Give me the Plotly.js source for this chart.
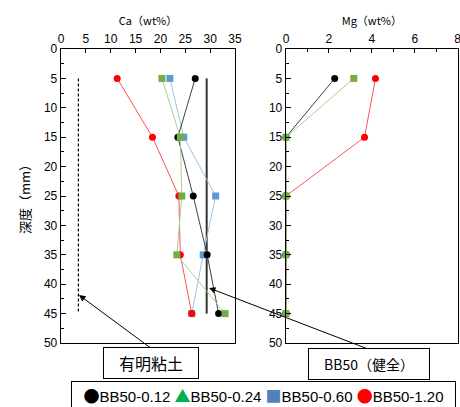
<!DOCTYPE html>
<html>
<head>
<meta charset="utf-8">
<script src="https://cdn.plot.ly/plotly-3.0.1.min.js"></script>
<style>html,body{margin:0;padding:0;background:#fff;}#chart{width:460px;height:407px;}</style>
</head>
<body>
<div id="chart"></div>
<script>
// depth (mm)
const depth = [5, 15, 25, 35, 45];
// Ca (wt%)
const caB012 = [27.0, 23.5, 26.6, 29.4, 31.7];
const caB024 = [20.3, 24.0, 24.3, 23.3, 33.0];
const caB060 = [21.9, 24.7, 31.1, 28.6, 26.3];
const caB120 = [11.3, 18.4, 23.7, 24.0, 26.3];
// Mg (wt%)
const mgB012 = [2.27, 0, 0, 0, 0];
const mgB024 = [3.16, 0, 0, 0, 0];
const mgB120 = [4.17, 3.66, 0, 0, 0];
// reference lines (Ca)
const refDepth = [5, 45];
const ariakeCa = [3.5, 3.5];
const bb50Ca = [29.3, 29.3];
const seriesNames = ['BB50-0.12', 'BB50-0.24', 'BB50-0.60', 'BB50-1.20'];
const legendGlyphs = ['●', '▲', '■', '●'];
const legendColors = ['#000000', '#00B050', '#4F81BD', '#FF0000'];

const JP = '"Noto Sans CJK JP", "Noto Sans", sans-serif';
const AR = '"Liberation Sans", Arial, sans-serif';

function series(x, y, xa, ya, lineColor, markColor, symbol) {
  return {x: x, y: y, xaxis: xa, yaxis: ya, type: 'scatter', mode: 'lines+markers',
    line: {color: lineColor, width: 1}, marker: {color: markColor, size: 7, symbol: symbol},
    showlegend: false, cliponaxis: false, hoverinfo: 'skip'};
}

const data = [
  {x: ariakeCa, y: refDepth, xaxis: 'x', yaxis: 'y', type: 'scatter', mode: 'lines',
   line: {color: '#000', width: 1.2, dash: '3px,2px'}, showlegend: false},
  {x: bb50Ca, y: refDepth, xaxis: 'x', yaxis: 'y', type: 'scatter', mode: 'lines',
   line: {color: '#333', width: 2}, showlegend: false},
  series(caB060, depth, 'x', 'y', '#9DC3E6', '#5B9BD5', 'square'),
  series(caB120, depth, 'x', 'y', '#FF5050', '#FF0000', 'circle'),
  series(caB012, depth, 'x', 'y', '#404040', '#000000', 'circle'),
  series(caB024, depth, 'x', 'y', '#A9D18E', '#70AD47', 'square'),
  series(mgB120, depth, 'x2', 'y2', '#FF5050', '#FF0000', 'circle'),
  series(mgB012, depth, 'x2', 'y2', '#404040', '#000000', 'circle'),
  series(mgB024, depth, 'x2', 'y2', '#A9D18E', '#70AD47', 'square')
];

const legendText = seriesNames.map(function (n, i) {
  return '<span style="font-family:Noto Sans CJK JP;font-size:16px;color:' + legendColors[i] + '">' +
    legendGlyphs[i] + '</span>' + n;
}).join('\u00A0');

const yCommon = {range: [50, 0], dtick: 5, ticks: 'inside', ticklen: 5, tickcolor: '#000',
  showline: true, linecolor: '#000', linewidth: 1.3, mirror: true, showgrid: false, zeroline: false,
  minor: {dtick: 2.5, ticks: 'inside', ticklen: 3, tickcolor: '#000'},
  tickfont: {family: AR, size: 12, color: '#000'}, domain: [0.1572, 0.8796]};

const layout = {
  width: 460, height: 407,
  margin: {l: 0, r: 0, t: 0, b: 0},
  paper_bgcolor: '#fff', plot_bgcolor: '#fff',
  showlegend: false,
  xaxis: {domain: [0.1326, 0.5109], range: [0, 35], side: 'top', anchor: 'y', dtick: 5,
    ticks: 'inside', ticklen: 4, tickcolor: '#000', showline: true, linecolor: '#000', linewidth: 1.3,
    mirror: true, showgrid: false, zeroline: false, tickfont: {family: AR, size: 12, color: '#000'},
    title: {text: 'Ca（wt%）', font: {family: JP, size: 11, color: '#000'}, standoff: 4}},
  yaxis: Object.assign({}, yCommon, {anchor: 'x',
    title: {text: '深度（mm）', font: {family: JP, size: 13, color: '#000'}, standoff: 10}}),
  xaxis2: {domain: [0.6217, 0.995], range: [0, 8], side: 'top', anchor: 'y2', dtick: 2,
    ticks: 'inside', ticklen: 4, tickcolor: '#000', showline: true, linecolor: '#000', linewidth: 1.3,
    mirror: true, showgrid: false, zeroline: false, tickfont: {family: AR, size: 12, color: '#000'},
    ticklabeloverflow: 'allow',
    minor: {dtick: 1, ticks: 'inside', ticklen: 3, tickcolor: '#000'},
    title: {text: 'Mg（wt%）', font: {family: JP, size: 11, color: '#000'}, standoff: 4}},
  yaxis2: Object.assign({}, yCommon, {anchor: 'x2'}),
  annotations: [
    {xref: 'paper', yref: 'paper', x: 79 / 460, y: 1 - 295 / 407, ax: 73, ay: 54, axref: 'pixel', ayref: 'pixel',
     text: '', showarrow: true, arrowhead: 2, arrowsize: 1.3, arrowwidth: 1, arrowcolor: '#000'},
    {xref: 'paper', yref: 'paper', x: 209 / 460, y: 1 - 288 / 407, ax: 159, ay: 61, axref: 'pixel', ayref: 'pixel',
     text: '', showarrow: true, arrowhead: 2, arrowsize: 1.3, arrowwidth: 1, arrowcolor: '#000'},
    {xref: 'paper', yref: 'paper', x: 151 / 460, y: 1 - 363 / 407, xanchor: 'center', yanchor: 'middle',
     text: '有明粘土', showarrow: false, font: {family: JP, size: 16, color: '#000'},
     bordercolor: '#000', borderwidth: 1, bgcolor: '#fff', width: 92, height: 28},
    {xref: 'paper', yref: 'paper', x: 369 / 460, y: 1 - 364 / 407, xanchor: 'center', yanchor: 'middle',
     text: 'BB50（健全）', showarrow: false, font: {family: JP, size: 14, color: '#000'},
     bordercolor: '#000', borderwidth: 1, bgcolor: '#fff', width: 118, height: 28},
    {xref: 'paper', yref: 'paper', x: 263.5 / 460, y: 1 - 381 / 407, xanchor: 'center', yanchor: 'top',
     text: legendText, showarrow: false, font: {family: AR, size: 15, color: '#000'},
     bordercolor: '#000', borderwidth: 1, bgcolor: '#fff', width: 381, height: 24, borderpad: 1}
  ]
};

Plotly.newPlot('chart', data, layout, {displayModeBar: false, staticPlot: true});
</script>
</body>
</html>
